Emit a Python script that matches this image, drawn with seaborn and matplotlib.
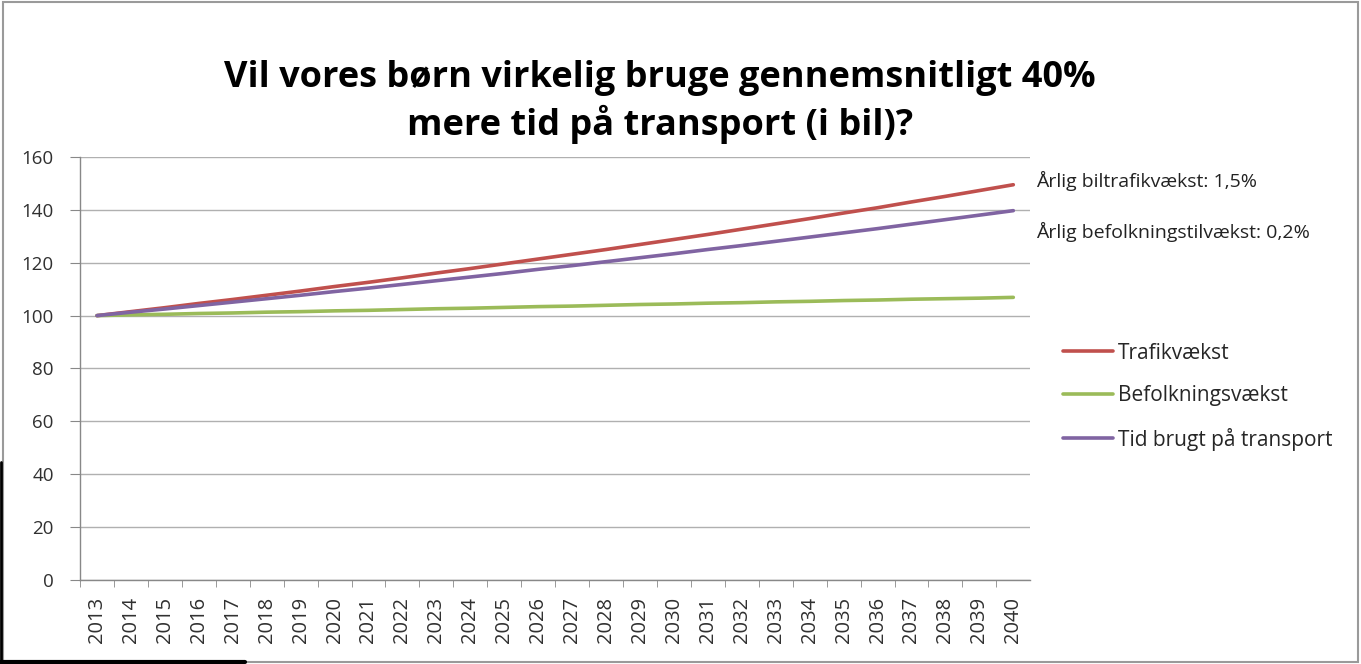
import pandas as pd
import seaborn as sns
import matplotlib.pyplot as plt
from matplotlib.patches import Rectangle
from matplotlib.lines import Line2D

years = list(range(2013, 2041))
trafik = [100, 101.5, 103.0, 104.6, 106.1, 107.7, 109.3, 111.0, 112.6, 114.3,
          116.1, 117.8, 119.6, 121.4, 123.2, 125.0, 126.9, 128.8, 130.7, 132.7,
          134.7, 136.7, 138.8, 140.8, 143.0, 145.1, 147.3, 149.5]
befolkning = [100, 100.3, 100.5, 100.8, 101.0, 101.3, 101.5, 101.8, 102.0, 102.3,
              102.6, 102.8, 103.1, 103.4, 103.6, 103.9, 104.2, 104.4, 104.7, 104.9,
              105.2, 105.4, 105.7, 105.9, 106.2, 106.4, 106.6, 106.9]
tid = [100, 101.3, 102.5, 103.8, 105.1, 106.4, 107.7, 109.1, 110.4, 111.8,
       113.2, 114.6, 116.0, 117.5, 118.9, 120.4, 121.9, 123.4, 125.0, 126.5,
       128.1, 129.7, 131.3, 132.9, 134.6, 136.3, 138.0, 139.7]

series_names = ["Trafikvækst", "Befolkningsvækst", "Tid brugt på transport"]
colors = ["#C0504D", "#9BBB59", "#8064A2"]

df = pd.DataFrame({
    "year": years * 3,
    "value": trafik + befolkning + tid,
    "serie": [series_names[0]] * len(years) + [series_names[1]] * len(years) + [series_names[2]] * len(years),
})

sns.set_style("white")
plt.rcParams["font.family"] = ["Open Sans", "DejaVu Sans"]

fig = plt.figure(figsize=(13.61, 6.64), dpi=100)
ax = fig.add_axes([0.0588, 0.1265, 0.6982, 0.6371])

sns.lineplot(data=df, x="year", y="value", hue="serie", palette=colors,
             linewidth=2.6, ax=ax, legend=False)

## Excel-ish axes...
ax.set_xlim(2012.5, 2040.5)
ax.set_ylim(0, 160)
ax.set_yticks(range(0, 161, 20))
ax.set_xticks(years)
ax.set_xticklabels([str(y) for y in years], rotation=90, fontsize=14.5, color="#303030")
ax.tick_params(axis="y", labelsize=13.5, labelcolor="#303030", length=7, color="#888888",
               direction="out", left=True, pad=12)
ax.set_xticks([y + 0.5 for y in years[:-1]] + [2012.5], minor=True)
ax.tick_params(axis="x", which="major", length=0, pad=12)
ax.tick_params(axis="x", which="minor", length=5, color="#888888", direction="out", bottom=True)
ax.grid(axis="y", color="#B0B0B0", linewidth=1)
ax.set_axisbelow(True)
for side in ["top", "right"]:
    ax.spines[side].set_visible(False)
for side in ["left", "bottom"]:
    ax.spines[side].set_color("#888888")
    ax.spines[side].set_linewidth(1)
ax.set_xlabel("")
ax.set_ylabel("")

## Title....
fig.text(0.485, 0.846, "Vil vores børn virkelig bruge gennemsnitligt 40%\nmere tid på transport (i bil)?",
         ha="center", va="center", fontsize=26, fontweight="bold", linespacing=1.3,
         color="black")

## Side notes...
fig.text(1036 / 1361, 1 - 181 / 664, "Årlig biltrafikvækst: 1,5%", ha="left", va="center",
         fontsize=14, color="#222222")
fig.text(1036 / 1361, 1 - 232 / 664, "Årlig befolkningstilvækst: 0,2%", ha="left", va="center",
         fontsize=14, color="#222222")

## Legend...
handles = [Line2D([], [], color=c, linewidth=2.6) for c in colors]
fig.legend(handles, series_names, loc="upper left", bbox_to_anchor=(1044 / 1361, 1 - 324 / 664),
           frameon=False, fontsize=15, handlelength=2.4, handletextpad=0.25, labelspacing=1.03)

## Outer frame + the dark scan edges...
fig.patches.append(Rectangle((0.002, 0.003), 0.996, 0.994, transform=fig.transFigure,
                             fill=False, edgecolor="#9A9A9A", linewidth=1.5))
fig.lines.append(Line2D([0, 245 / 1361], [0.003, 0.003], transform=fig.transFigure,
                        color="black", linewidth=3))
fig.lines.append(Line2D([0.001, 0.001], [0, 1 - 462 / 664], transform=fig.transFigure,
                        color="black", linewidth=2))

plt.savefig("out.png", dpi=100)
plt.close()
